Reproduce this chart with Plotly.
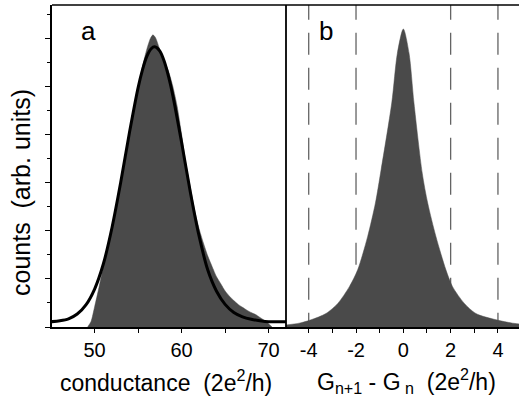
import plotly.graph_objects as go

# ---------------- data ----------------
# panel a: conductance histogram (filled)
a_hist_x = [49.2, 49.6, 50.0, 50.5, 51.0, 51.5, 52.0, 52.5, 53.0, 53.5, 54.0, 54.5, 55.0, 55.5,
            56.0, 56.4, 56.7, 57.0, 57.4, 57.8, 58.2, 58.5, 59.0, 59.5, 60.0, 60.5, 61.0, 61.5,
            62.0, 62.5, 63.0, 63.5, 64.0, 64.5, 65.0, 65.5, 66.0, 66.5, 67.0, 67.5, 68.0, 68.5,
            69.0, 69.5, 70.0, 70.4]
a_hist_y = [0.0, 0.12, 0.42, 0.82, 1.26, 1.68, 2.1, 2.53, 3.0, 3.45, 3.98, 4.5, 4.98, 5.42,
            5.78, 6.0, 6.08, 6.02, 5.82, 5.6, 5.45, 5.32, 5.0, 4.58, 4.0, 3.38, 2.9, 2.42,
            2.05, 1.75, 1.48, 1.26, 1.05, 0.9, 0.75, 0.64, 0.55, 0.47, 0.41, 0.35, 0.3, 0.26,
            0.2, 0.14, 0.07, 0.0]
# panel a: fitted curve (black line)
a_fit_x = [45.0, 46.0, 47.0, 48.0, 49.0, 50.0, 51.0, 52.0, 53.0, 54.0, 55.0, 55.5, 56.0, 56.5,
           56.9, 57.5, 58.0, 58.5, 59.0, 60.0, 61.0, 62.0, 63.0, 64.0, 65.0, 66.0, 67.0, 68.0,
           69.0, 70.0, 72.2]
a_fit_y = [0.11, 0.13, 0.17, 0.27, 0.46, 0.79, 1.31, 2.07, 3.01, 4.04, 4.98, 5.35, 5.63, 5.79,
           5.83, 5.74, 5.53, 5.21, 4.81, 3.84, 2.81, 1.9, 1.19, 0.75, 0.47, 0.3, 0.21, 0.16,
           0.13, 0.11, 0.11]
# panel b: G_{n+1} - G_n histogram (filled)
b_hist_x = [-5.0, -4.4, -3.9, -3.27, -2.77, -2.28, -1.93, -1.51, -1.18, -0.94, -0.49, -0.25,
            0.0, 0.24, 0.45, 0.8, 1.03, 1.38, 1.80, 2.08, 2.58, 3.07, 3.92, 4.62, 5.0]
b_hist_y = [0.04, 0.08, 0.15, 0.28, 0.49, 0.84, 1.19, 1.88, 2.58, 3.27, 4.66, 5.7,
            6.2, 5.7, 4.66, 3.2, 2.58, 1.88, 1.19, 0.84, 0.49, 0.28, 0.15, 0.08, 0.06]
# dashed guide lines in panel b
b_guides = [-4, -2, 2, 4]

a_ticks = [50, 60, 70]
b_ticks = [-4, -2, 0, 2, 4]
b_ticktext = ["-4", "-2", "0", "2", "4"]

FILL = "rgb(74,74,74)"
FONT = "Liberation Sans, Arial, Helvetica, sans-serif"
YMAX = 6.7

fig = go.Figure()

# dashed guide lines (behind fill)
gx, gy = [], []
for g in b_guides:
    gx += [g, g, None]
    gy += [6.85, 0, None]
fig.add_trace(go.Scatter(x=gx, y=gy, mode="lines", xaxis="x2", yaxis="y",
                         line=dict(color="rgb(100,100,100)", width=1.3, dash="22px,13px"),
                         hoverinfo="skip", showlegend=False))

fig.add_trace(go.Scatter(x=a_hist_x, y=a_hist_y, mode="lines", fill="tozeroy",
                         fillcolor=FILL, line=dict(color=FILL, width=0.5, shape="spline", smoothing=0.6),
                         xaxis="x", yaxis="y", showlegend=False))
fig.add_trace(go.Scatter(x=a_fit_x, y=a_fit_y, mode="lines",
                         line=dict(color="black", width=3, shape="spline", smoothing=0.8),
                         xaxis="x", yaxis="y", showlegend=False))
fig.add_trace(go.Scatter(x=b_hist_x, y=b_hist_y, mode="lines", fill="tozeroy",
                         fillcolor=FILL, line=dict(color=FILL, width=0.5, shape="spline", smoothing=0.8),
                         xaxis="x2", yaxis="y", showlegend=False))

split = 234 / 467

tickfont = dict(family=FONT, size=20, color="black")
fig.update_layout(
    width=519, height=401,
    margin=dict(l=52, r=0, t=5, b=74),
    paper_bgcolor="white", plot_bgcolor="white",
    font=dict(family=FONT, color="black"),
    xaxis=dict(domain=[0, split], range=[45.1, 72.0], anchor="y",
               tickmode="array", tickvals=a_ticks, ticks="outside", ticklen=4,
               tickcolor="black", tickwidth=1.2, tickfont=tickfont,
               showline=True, linecolor="black", linewidth=1.5, showgrid=False, zeroline=False,
               minor=dict(dtick=5, ticks="outside", ticklen=4, tickcolor="black", tickwidth=1.2)),
    xaxis2=dict(domain=[split, 1], range=[-4.96, 4.89], anchor="y",
                tickmode="array", tickvals=b_ticks, ticktext=b_ticktext, ticks="outside", ticklen=4,
                tickcolor="black", tickwidth=1.2, tickfont=tickfont,
                showline=True, linecolor="black", linewidth=1.5, showgrid=False, zeroline=False,
                minor=dict(dtick=1, ticks="outside", ticklen=4, tickcolor="black", tickwidth=1.2)),
    yaxis=dict(range=[0, YMAX], anchor="x", dtick=1, ticks="outside", ticklen=5,
               tickcolor="black", tickwidth=1.2, showticklabels=False,
               showline=True, linecolor="black", linewidth=1.5, showgrid=False, zeroline=False,
               minor=dict(dtick=0.5, ticks="outside", ticklen=3, tickcolor="black", tickwidth=1.2)),
    shapes=[
        dict(type="line", xref="paper", yref="paper", x0=0, x1=1, y0=1, y1=1,
             line=dict(color="black", width=1.5)),
        dict(type="line", xref="paper", yref="paper", x0=split, x1=split, y0=0, y1=1,
             line=dict(color="black", width=1.8)),
    ],
    annotations=[
        dict(text="a", xref="paper", yref="paper", x=(88 - 52) / 467, y=(327 - 31) / 322,
             showarrow=False, font=dict(family=FONT, size=26), xanchor="center", yanchor="middle"),
        dict(text="b", xref="paper", yref="paper", x=(326 - 52) / 467, y=(327 - 31) / 322,
             showarrow=False, font=dict(family=FONT, size=26), xanchor="center", yanchor="middle"),
        dict(text="counts\u00a0\u00a0(arb.\u00a0units)", xref="paper", yref="paper",
             x=-(52 - 21) / 467, y=(327 - 193) / 322, textangle=-90,
             showarrow=False, font=dict(family=FONT, size=25), xanchor="center", yanchor="middle"),
        dict(text="conductance\u00a0\u00a0(2e<sup>2</sup>/h)", xref="paper", yref="paper",
             x=(166 - 52) / 467, y=-(381 - 327) / 322,
             showarrow=False, font=dict(family=FONT, size=23), xanchor="center", yanchor="middle"),
        dict(text="G<sub>n+1</sub> - G<sub>\u00a0n</sub>\u00a0\u00a0(2e<sup>2</sup>/h)", xref="paper", yref="paper",
             x=(406 - 52) / 467, y=-(381 - 327) / 322,
             showarrow=False, font=dict(family=FONT, size=23), xanchor="center", yanchor="middle"),
    ],
)

fig.write_html("out.html", config={"displayModeBar": False},
               post_script="document.body.style.margin='0';document.body.style.overflow='hidden';")
